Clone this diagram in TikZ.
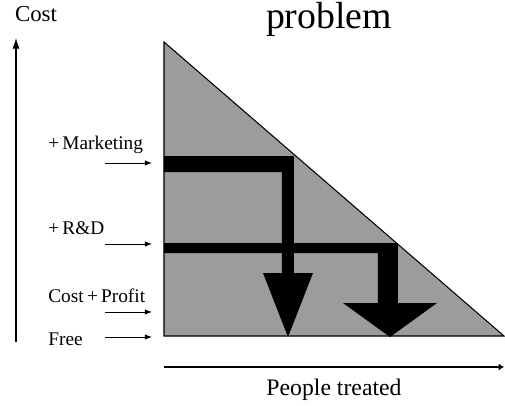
\documentclass[tikz,border=0pt]{standalone}
\usepackage{fontspec}
\setmainfont{Liberation Serif}
\usetikzlibrary{arrows.meta}

\begin{document}
\begin{tikzpicture}[
  x=0.02cm, y=-0.02cm,
  lbl/.style = {anchor=west, inner sep=0pt, font=\fontsize{11}{13}\selectfont},
  pointer/.style = {-{Latex[length=4pt,width=3pt]}, line width=0.5pt},
  band/.style = {fill=black, draw=none}
    ]
  \useasboundingbox (0,0) rectangle (505,406);
  % shaded region
  \coordinate (top) at (164,42);
  \coordinate (origin) at (164,336);
  \coordinate (far) at (504,336);
  \fill[gray!78, draw=black, line width=0.6pt] (top) -- (origin) -- (far) -- cycle;
  % the two stepped arrows
  \fill[band] (164,156) -- (294,156) -- (294,273) -- (313,273) -- (288,337)
    -- (263,273) -- (282,273) -- (282,172) -- (164,172) -- cycle;
  \fill[band] (164,243) -- (398,243) -- (398,303) -- (437,303) -- (390,337)
    -- (343,303) -- (378,303) -- (378,253) -- (164,253) -- cycle;
  % axes
  \coordinate (ybot) at (16,342);
  \coordinate (ytop) at (16,38);
  \draw[-{Latex[length=6pt,width=4pt]}, line width=0.6pt] (ybot) -- (ytop);
  \coordinate (xl) at (164,367);
  \coordinate (xr) at (504,367);
  \draw[-{Latex[length=3pt,width=4pt]}, line width=0.6pt] (xl) -- (xr);
  \node[inner sep=0pt, font=\fontsize{13}{15}\selectfont] (cost) at (36,14) {Cost};
  \node[inner sep=0pt, anchor=base, font=\fontsize{21.5}{24}\selectfont] (title) at (329,28) {problem};
  \node[inner sep=0pt, font=\fontsize{13.5}{16}\selectfont] (people) at (334,390) {People treated};
  % price levels
  \node[lbl] (mkt) at (48,145) {+\,Marketing};
  \node[lbl] (rd) at (48,228) {+\,R\&D};
  \node[lbl] (cp) at (48,296) {Cost\,+\,Profit};
  \node[lbl] (free) at (48,339) {Free};
  \coordinate (a1) at (105,163); \coordinate (b1) at (152,163);
  \coordinate (a2) at (105,244); \coordinate (b2) at (152,244);
  \coordinate (a3) at (105,312); \coordinate (b3) at (152,312);
  \coordinate (a4) at (105,337); \coordinate (b4) at (152,337);
  \draw[pointer] (a1) -- (b1);
  \draw[pointer] (a2) -- (b2);
  \draw[pointer] (a3) -- (b3);
  \draw[pointer] (a4) -- (b4);
\end{tikzpicture}
\end{document}
